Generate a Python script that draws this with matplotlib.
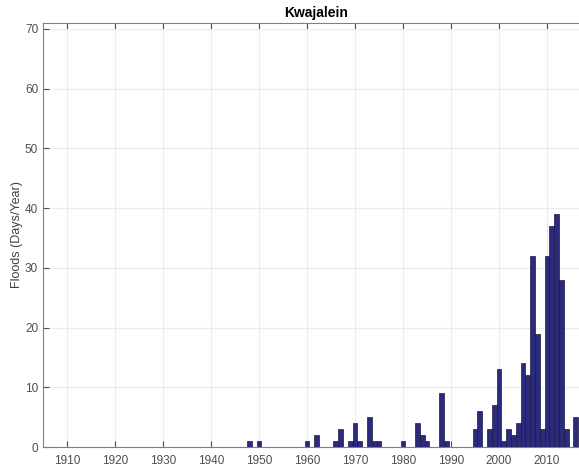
import numpy as np
import matplotlib.pyplot as plt

plt.rcParams['font.family'] = ['Liberation Sans', 'DejaVu Sans']

years = [1948, 1950, 1960, 1962, 1966, 1967, 1969, 1970, 1971, 1973, 1974, 1975,
         1980, 1983, 1984, 1985, 1988, 1989, 1995, 1996, 1998, 1999, 2000, 2001,
         2002, 2003, 2004, 2005, 2006, 2007, 2008, 2009, 2010, 2011, 2012, 2013,
         2014, 2016]
floods = [1, 1, 1, 2, 1, 3, 1, 4, 1, 5, 1, 1,
          1, 4, 2, 1, 9, 1, 3, 6, 3, 7, 13, 1,
          3, 2, 4, 14, 12, 32, 19, 3, 32, 37, 39, 28,
          3, 5]
xticks = np.arange(1910, 2020, 10)
yticks = np.arange(0, 80, 10)

fig = plt.figure(figsize=(5.79, 4.69), dpi=100)
ax = fig.add_axes([43 / 579, 22 / 469, (590 - 43) / 579, (447 - 23) / 469])

ax.bar(years, floods, width=1.0, color='#2c2a7c', edgecolor='#1a1a40', linewidth=0.5, zorder=3)

ax.set_xlim(1905, 1905 + (590 - 43) / 4.8)
ax.set_ylim(0, 71)
ax.set_xticks(xticks)
ax.set_yticks(yticks)
ax.grid(True, color='#ebebeb', linewidth=0.8, zorder=0)
ax.tick_params(direction='in', length=4, colors='#4d4d4d', labelsize=8.5, top=True, right=False)
ax.tick_params(axis='x', pad=6)
for s in ['left', 'bottom', 'top']:
    ax.spines[s].set_color('#808080')
ax.spines['right'].set_visible(False)

ax.set_title('Kwajalein', fontsize=10, fontweight='bold', pad=4)
ax.set_ylabel('Floods (Days/Year)', fontsize=9, color='#404040', labelpad=1)

fig.savefig('out.png', dpi=100)
